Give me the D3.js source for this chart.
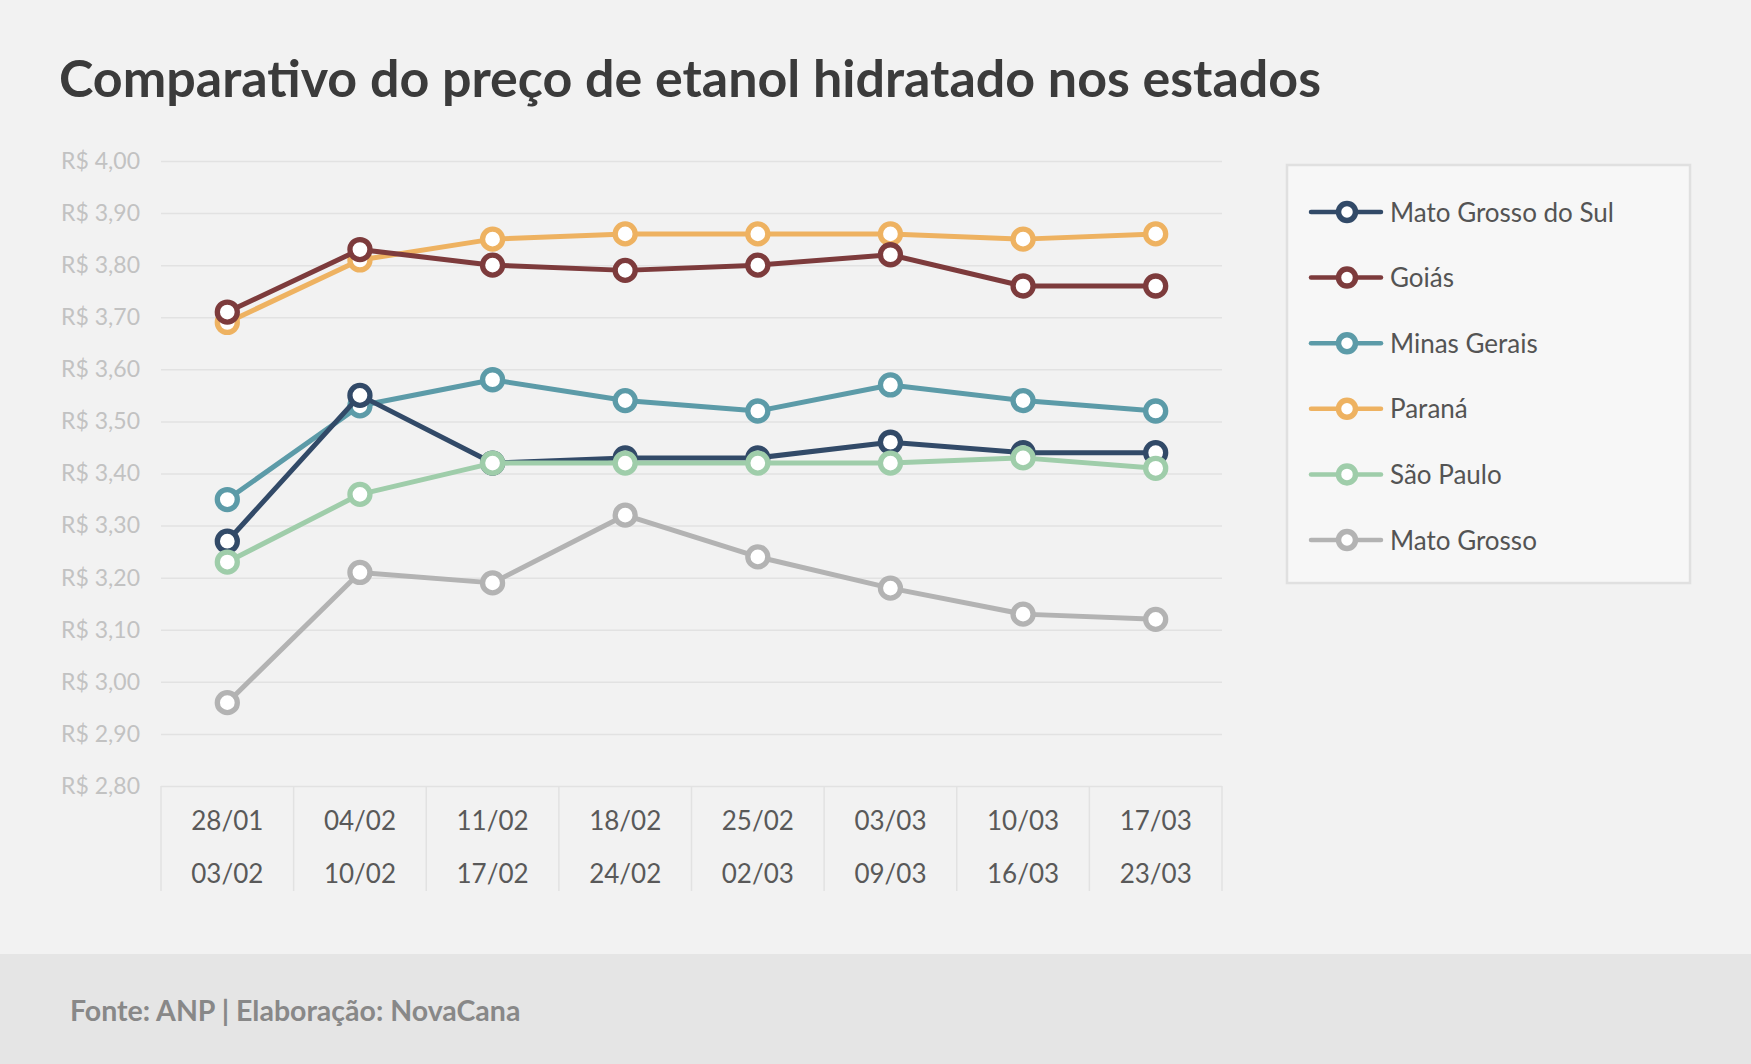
<!DOCTYPE html>
<html lang="pt-BR">
<head>
<meta charset="UTF-8">
<title>Comparativo do preço de etanol hidratado nos estados</title>
<script src="https://d3js.org/d3.v7.min.js"></script>
<style>
  html, body { margin: 0; padding: 0; background: #f2f2f2; }
  body { font-family: Lato, sans-serif; }
  svg { display: block; }
</style>
</head>
<body>
<div id="chart"></div>
<script>
// Semanas (duas linhas por rótulo)
const weekStart = ["28/01", "04/02", "11/02", "18/02", "25/02", "03/03", "10/03", "17/03"];
const weekEnd   = ["03/02", "10/02", "17/02", "24/02", "02/03", "09/03", "16/03", "23/03"];

const states = ["Mato Grosso do Sul", "Goiás", "Minas Gerais", "Paraná", "São Paulo", "Mato Grosso"];
const colors = ["#324a68", "#7d3b3c", "#5c9ba8", "#eeb261", "#9fcdaa", "#b3b3b3"];

// Preços (R$/litro)
const msValues = [3.27, 3.55, 3.42, 3.43, 3.43, 3.46, 3.44, 3.44];
const goValues = [3.71, 3.83, 3.80, 3.79, 3.80, 3.82, 3.76, 3.76];
const mgValues = [3.35, 3.53, 3.58, 3.54, 3.52, 3.57, 3.54, 3.52];
const prValues = [3.69, 3.81, 3.85, 3.86, 3.86, 3.86, 3.85, 3.86];
const spValues = [3.23, 3.36, 3.42, 3.42, 3.42, 3.42, 3.43, 3.41];
const mtValues = [2.96, 3.21, 3.19, 3.32, 3.24, 3.18, 3.13, 3.12];

const yTicks = [2.8, 2.9, 3.0, 3.1, 3.2, 3.3, 3.4, 3.5, 3.6, 3.7, 3.8, 3.9, 4.0];

const series = [msValues, goValues, mgValues, prValues, spValues, mtValues]
  .map((values, i) => ({ name: states[i], color: colors[i], values }));
// ordem de desenho (último fica por cima)
const drawOrder = [3, 2, 0, 1, 4, 5];

const width = 1751, height = 1064;
const plot = { left: 161, right: 1222, top: 161, bottom: 786 };

const brl = d3.formatLocale({ decimal: ",", thousands: ".", grouping: [3], currency: ["R$ ", ""] });
const fmt = brl.format("$.2f");

const svg = d3.select("#chart").append("svg")
  .attr("width", width)
  .attr("height", height);

svg.append("rect").attr("width", width).attr("height", height).attr("fill", "#f2f2f2");

// Título
svg.append("text")
  .attr("x", 59).attr("y", 97)
  .attr("font-size", 52).attr("font-weight", 700)
  .attr("fill", "#3b3b3b")
  .text("Comparativo do preço de etanol hidratado nos estados");

const x = d3.scaleBand()
  .domain(d3.range(weekStart.length))
  .range([plot.left, plot.right]);

const y = d3.scaleLinear()
  .domain([2.8, 4.0])
  .range([plot.bottom, plot.top]);

// Grade horizontal + rótulos do eixo Y
const yAxis = svg.append("g")
  .attr("transform", `translate(${plot.left},0)`)
  .call(d3.axisLeft(y).tickValues(yTicks).tickFormat(fmt)
    .tickSize(-(plot.right - plot.left)).tickPadding(21));
yAxis.select(".domain").remove();
yAxis.selectAll(".tick line").attr("stroke", "#e2e2e2").attr("stroke-width", 1.5);
yAxis.selectAll(".tick text")
  .attr("fill", "#c2c2c2").attr("font-size", 23).attr("font-family", "Lato, sans-serif");

// Eixo X: células com duas linhas de datas
const xg = svg.append("g");
const bounds = x.domain().map(i => x(i)).concat([plot.right]);
xg.selectAll("line.sep").data(bounds).join("line")
  .attr("class", "sep")
  .attr("x1", d => d).attr("x2", d => d)
  .attr("y1", plot.bottom).attr("y2", 891)
  .attr("stroke", "#e2e2e2").attr("stroke-width", 1.5);
xg.selectAll("text.start").data(weekStart).join("text")
  .attr("class", "start")
  .attr("x", (d, i) => x(i) + x.bandwidth() / 2).attr("y", 830)
  .attr("text-anchor", "middle").attr("font-size", 26).attr("fill", "#595959")
  .text(d => d);
xg.selectAll("text.end").data(weekEnd).join("text")
  .attr("class", "end")
  .attr("x", (d, i) => x(i) + x.bandwidth() / 2).attr("y", 883)
  .attr("text-anchor", "middle").attr("font-size", 26).attr("fill", "#595959")
  .text(d => d);

// Linhas
const line = d3.line()
  .x((d, i) => x(i) + x.bandwidth() / 2)
  .y(d => y(d));

const groups = svg.append("g").selectAll("g.series")
  .data(drawOrder.map(i => series[i]))
  .join("g").attr("class", "series");

groups.append("path")
  .attr("d", d => line(d.values))
  .attr("fill", "none")
  .attr("stroke", d => d.color)
  .attr("stroke-width", 5)
  .attr("stroke-linejoin", "round");

groups.selectAll("circle")
  .data(d => d.values.map(v => ({ v, color: d.color })))
  .join("circle")
  .attr("cx", (d, i) => x(i) + x.bandwidth() / 2)
  .attr("cy", d => y(d.v))
  .attr("r", 10)
  .attr("fill", "#fff")
  .attr("stroke", d => d.color)
  .attr("stroke-width", 5.3);

// Legenda
const legend = svg.append("g");
legend.append("rect")
  .attr("x", 1287).attr("y", 165).attr("width", 403).attr("height", 418)
  .attr("fill", "#f7f7f7").attr("stroke", "#e0e0e0").attr("stroke-width", 2.5);

const items = legend.selectAll("g.item").data(series).join("g")
  .attr("class", "item")
  .attr("transform", (d, i) => `translate(1311,${212 + i * 65.6})`);
items.append("line")
  .attr("x1", 0).attr("x2", 70)
  .attr("stroke", d => d.color).attr("stroke-width", 4.5).attr("stroke-linecap", "round");
items.append("circle")
  .attr("cx", 36).attr("r", 8.5)
  .attr("fill", "#fff").attr("stroke", d => d.color).attr("stroke-width", 5.5);
items.append("text")
  .attr("x", 79).attr("y", 9.5)
  .attr("font-size", 26).attr("fill", "#545454")
  .text(d => d.name);

// Rodapé
svg.append("rect")
  .attr("x", 0).attr("y", 954).attr("width", width).attr("height", height - 954)
  .attr("fill", "#e5e5e5");
svg.append("text")
  .attr("x", 70).attr("y", 1021)
  .attr("font-size", 28.5).attr("font-weight", 700).attr("fill", "#888888")
  .text("Fonte: ANP | Elaboração: NovaCana");
</script>
</body>
</html>
